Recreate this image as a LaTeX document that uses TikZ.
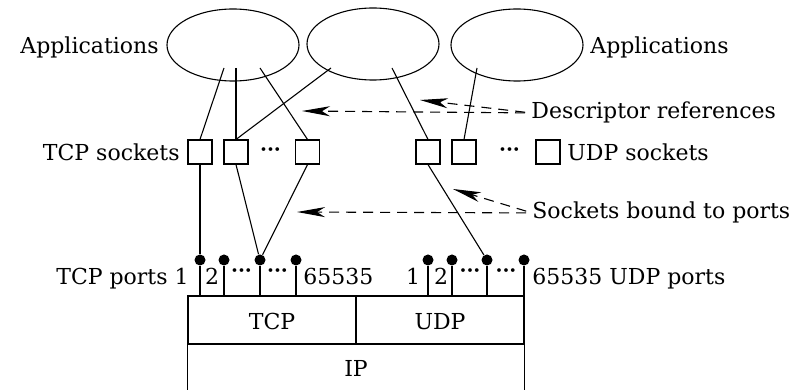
\documentclass[tikz,border=0pt]{standalone}
\usepackage{fontspec}
\setmainfont{DejaVu Serif}
\usetikzlibrary{arrows.meta,shapes.geometric}
\begin{document}
\begin{tikzpicture}[x=0.5pt,y=-0.5pt,
  font=\fontsize{11}{13}\selectfont,
  app/.style={draw,ellipse,minimum width=66pt,minimum height=36pt,inner sep=0pt,line width=0.55pt},
  sock/.style={draw,rectangle,minimum size=12pt,inner sep=0pt,line width=0.55pt},
  port/.style={circle,fill,minimum size=5.5pt,inner sep=0pt},
  layer/.style={draw,rectangle,minimum width=84pt,minimum height=24pt,inner sep=0pt,line width=0.65pt},
  conn/.style={line width=0.55pt},
  stem/.style={line width=0.65pt},
  ref/.style={dash pattern=on 5pt off 3.5pt,line width=0.55pt,shorten <=3pt,-{Stealth[length=14pt,width=5pt,inset=4pt]}},
  dotlbl/.style={font=\fontsize{10}{10}\bfseries\selectfont,inner sep=0pt,anchor=base},
  lbl/.style={inner sep=0pt}]
\useasboundingbox (0,0) rectangle (805,390);
% applications
\node[app] (e1) at (233,45) {};
\node[app] (e2) at (373,44) {};
\node[app] (e3) at (517,45) {};
\node[lbl,anchor=base east] (appl) at (159,54) {Applications};
\node[lbl,anchor=base west] (appr) at (590,54) {Applications};
% reference points inside ellipses
\coordinate (e1a) at (224,68);
\coordinate (e1b) at (236,68);
\coordinate (e1c) at (260,68);
\coordinate (e2a) at (331,68);
\coordinate (e2b) at (392,68);
\coordinate (e3a) at (477,68);
% sockets
\node[sock] (t1) at (200,152) {};
\node[sock] (t2) at (236,152) {};
\node[dotlbl] (tdots) at (270.5,157) {···};
\node[sock] (t3) at (307.5,152) {};
\node[sock] (u1) at (428,152) {};
\node[sock] (u2) at (464,152) {};
\node[dotlbl] (udots) at (509.5,157) {···};
\node[sock] (u3) at (548,152) {};
\node[lbl,anchor=base east] (tcps) at (180,161) {TCP sockets};
\node[lbl,anchor=base west] (udps) at (567,161) {UDP sockets};
% application to socket connectors
\draw[conn] (e1a) -- (t1.north);
\draw[conn] (e1b) -- (t2.north);
\draw[conn] (e1c) -- (t3.north);
\draw[conn] (e2a) -- (t2.north);
\draw[conn] (e2b) -- (u1.north);
\draw[conn] (e3a) -- (u2.north);
% layers
\node[layer] (tcp) at (272,320) {};
\node[layer] (udp) at (440,320) {};
\node[lbl,anchor=base] (tcpl) at (272,329) {TCP};
\node[lbl,anchor=base] (udpl) at (440,329) {UDP};
\node[inner sep=0pt,minimum width=168pt,minimum height=23pt] (ip) at (356,367) {};
\node[lbl,anchor=base] (ipl) at (356,377) {IP};
\draw[stem] (ip.north west) -- (ip.south west);
\draw[stem] (ip.north east) -- (ip.south east);
% ports
\node[port] (tp1) at (200,260) {};
\node[port] (tp2) at (224,260) {};
\node[port] (tp3) at (260,260) {};
\node[port] (tp4) at (296,260) {};
\node[port] (up1) at (428,260) {};
\node[port] (up2) at (452,260) {};
\node[port] (up3) at (487,260) {};
\node[port] (up4) at (524,260) {};
\foreach \p in {tp1,tp2,tp3,tp4}{\draw[stem] (\p) -- (\p |- tcp.north);}
\foreach \p in {up1,up2,up3,up4}{\draw[stem] (\p) -- (\p |- udp.north);}
% port labels
\node[lbl,anchor=base east] (tcpp) at (189,285) {TCP ports 1};
\node[lbl,anchor=base] (t2l) at (212,285) {2};
\node[dotlbl] (td1) at (241.5,278) {···};
\node[dotlbl] (td2) at (277.5,278) {···};
\node[lbl,anchor=base west] (t65) at (303,285) {65535};
\node[lbl,anchor=base] (u1l) at (413,285) {1};
\node[lbl,anchor=base] (u2l) at (441,285) {2};
\node[dotlbl] (ud1) at (470,278) {···};
\node[dotlbl] (ud2) at (506,278) {···};
\node[lbl,anchor=base west] (u65) at (532,285) {65535 UDP ports};
% socket to port connectors
\draw[conn] (t1.south) -- (tp1);
\draw[conn] (t2.south) -- (tp3);
\draw[conn] (t3.south) -- (tp3);
\draw[conn] (u1.south) -- (up3);
% dashed references
\node[lbl,anchor=base west] (desc) at (531,119) {Descriptor references};
\node[lbl,anchor=base west] (bound) at (532,219) {Sockets bound to ports};
\coordinate (a1) at (302,111);
\coordinate (a2) at (420,100);
\coordinate (a3) at (297,212);
\coordinate (a4) at (453,189);
\draw[ref] (desc.west) -- (a1);
\draw[ref] (desc.west) -- (a2);
\draw[ref] (bound.west) -- (a3);
\draw[ref] (bound.west) -- (a4);
\end{tikzpicture}
\end{document}
